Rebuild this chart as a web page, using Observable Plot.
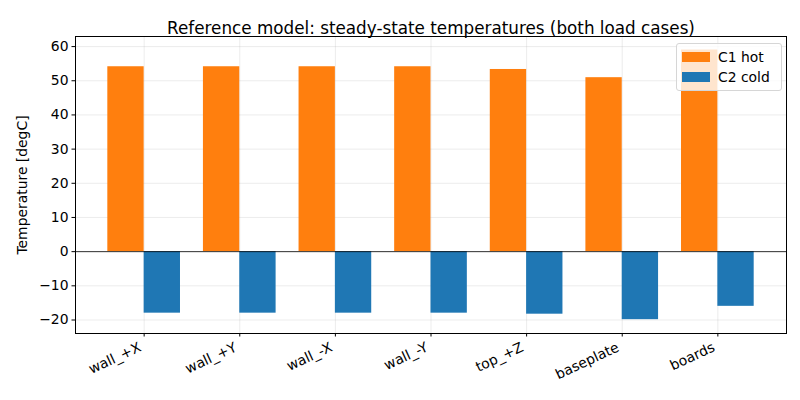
<!DOCTYPE html>
<html>
<head>
<meta charset="utf-8">
<script src="https://cdn.jsdelivr.net/npm/d3@7"></script>
<script src="https://cdn.jsdelivr.net/npm/@observablehq/plot@0.6"></script>
<style>
  body { margin: 0; background: #fff; font-family: "DejaVu Sans", sans-serif; }
  #wrap { position: relative; width: 800px; height: 400px; }
  .legend {
    position: absolute; left: 676px; top: 43px; width: 106px; height: 48px;
    background: rgba(255,255,255,0.8); border: 1px solid #d6d6d6; border-radius: 3px;
    box-sizing: border-box; font-size: 13.9px; color: #000;
  }
  .legend .row { position: absolute; left: 5px; height: 16px; display: flex; align-items: center; }
  .legend .sw { width: 28px; height: 10px; margin-right: 8px; }
</style>
</head>
<body>
<div id="wrap"></div>
<script>
// Steady-state temperatures per component, two load cases
const components = ["wall_+X", "wall_+Y", "wall_-X", "wall_-Y", "top_+Z", "baseplate", "boards"];
const hotCase = [54.1, 54.1, 54.1, 54.1, 53.3, 50.9, 59.0];
const coldCase = [-18.0, -18.0, -18.0, -18.0, -18.3, -19.9, -16.0];
const caseNames = ["C1 hot", "C2 cold"];
const caseColors = ["#ff7f0e", "#1f77b4"];
const yTicks = [-20, -10, 0, 10, 20, 30, 40, 50, 60];
const title = "Reference model: steady-state temperatures (both load cases)";
const yLabel = "Temperature [degC]";

const barWidth = 0.38;
const rows = [];
components.forEach((c, i) => {
  rows.push({i, component: c, lc: caseNames[0], value: hotCase[i], x1: i - barWidth, x2: i});
  rows.push({i, component: c, lc: caseNames[1], value: coldCase[i], x1: i, x2: i + barWidth});
});
const idx = components.map((_, i) => i);
const fmt = d3.format("d");

const chart = Plot.plot({
  width: 800,
  height: 400,
  marginLeft: 75,
  marginRight: 14,
  marginTop: 36,
  marginBottom: 67,
  style: {fontFamily: "DejaVu Sans, sans-serif", fontSize: "13.9px", color: "#000", background: "#fff"},
  x: {domain: [-0.718, 6.718]},
  y: {domain: [-23.95, 62.95]},
  color: {domain: caseNames, range: caseColors},
  marks: [
    Plot.gridY(yTicks, {stroke: "#b0b0b0", strokeOpacity: 0.3, strokeWidth: 0.8}),
    Plot.gridX(idx, {stroke: "#b0b0b0", strokeOpacity: 0.3, strokeWidth: 0.8}),
    Plot.rect(rows, {x1: "x1", x2: "x2", y1: 0, y2: "value", fill: "lc"}),
    Plot.ruleY([0], {stroke: "#000", strokeWidth: 0.8}),
    Plot.frame({stroke: "#000", strokeWidth: 1}),
    Plot.axisY(yTicks, {tickFormat: fmt, tickSize: 3.5, tickPadding: 3.5, label: null, fontSize: "13.9px"}),
    // tick marks only
    Plot.axisX(idx, {tickFormat: () => "", tickSize: 3.5, label: null}),
    // rotated category labels, right-aligned under each tick
    Plot.axisX(idx, {tickFormat: i => components[i], tickSize: 0, tickRotate: -25, tickPadding: 8, dx: -4, dy: 5, label: null, fontSize: "13.9px"}),
    Plot.text([title], {frameAnchor: "top", dy: -14, fontSize: 16.8, fill: "#000"}),
    Plot.text([yLabel], {frameAnchor: "left", dx: -53, rotate: -90, textAnchor: "middle", fontSize: 13.9, fill: "#000"})
  ]
});

const wrap = document.getElementById("wrap");
wrap.appendChild(chart);

// Legend box in the upper right corner of the axes
const legend = document.createElement("div");
legend.className = "legend";
caseNames.forEach((name, k) => {
  const row = document.createElement("div");
  row.className = "row";
  row.style.top = (5 + k * 20) + "px";
  const sw = document.createElement("div");
  sw.className = "sw";
  sw.style.background = caseColors[k];
  const label = document.createElement("span");
  label.textContent = name;
  row.appendChild(sw);
  row.appendChild(label);
  legend.appendChild(row);
});
wrap.appendChild(legend);
</script>
</body>
</html>
